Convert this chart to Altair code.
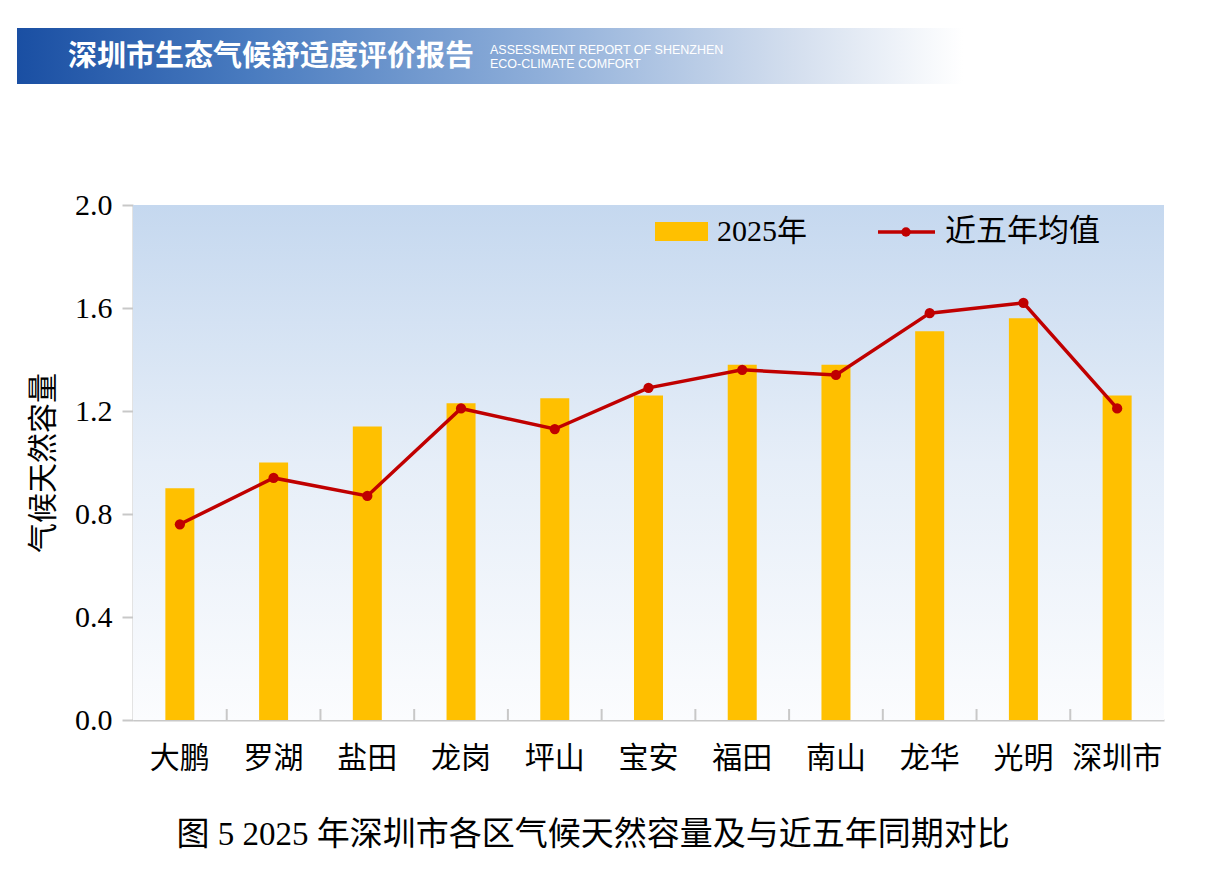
import altair as alt
import pandas as pd

# ---------------- data ----------------
districts = ["大鹏", "罗湖", "盐田", "龙岗", "坪山", "宝安", "福田", "南山", "龙华", "光明", "深圳市"]
values_2025 = [0.90, 1.00, 1.14, 1.23, 1.25, 1.26, 1.38, 1.38, 1.51, 1.56, 1.26]
values_5yr = [0.76, 0.94, 0.87, 1.21, 1.13, 1.29, 1.36, 1.34, 1.58, 1.62, 1.21]
y_ticks = [0.0, 0.4, 0.8, 1.2, 1.6, 2.0]

header_cn = "深圳市生态气候舒适度评价报告"
header_en1 = "ASSESSMENT REPORT OF SHENZHEN"
header_en2 = "ECO-CLIMATE COMFORT"
y_title = "气候天然容量"
legend_bar = "2025年"
legend_line = "近五年均值"
caption = "图 5 2025 年深圳市各区气候天然容量及与近五年同期对比"

# ---------------- layout ----------------
W, H = 1031, 515
PAD_L, PAD_T = 133, 205

SERIF = "Liberation Serif, Noto Sans CJK SC"
CJK = "Noto Sans CJK SC"

df = pd.DataFrame({"区": districts, "y2025": values_2025, "y5": values_5yr})
one = pd.DataFrame({"k": [0]})
tick_df = pd.DataFrame({"区": districts[1:]})

xscale = alt.Scale(domain=districts, paddingInner=0, paddingOuter=0)
yscale = alt.Scale(domain=[0, 2], nice=False)

xaxis = alt.Axis(title=None, labelAngle=0, labelFont=CJK, labelFontSize=30,
                 labelColor="#000000", labelPadding=23, ticks=False,
                 domainColor="#c8c8c8", domainWidth=2)

# background gradient of plot area
bg = alt.Chart(one).mark_rect(
    color=alt.LinearGradient(
        gradient="linear",
        stops=[alt.GradientStop(color="#c5d8ef", offset=0),
               alt.GradientStop(color="#e6eef8", offset=0.5),
               alt.GradientStop(color="#fbfcfe", offset=1)],
        x1=0, x2=0, y1=0, y2=1)
).encode(x=alt.value(0), x2=alt.value(W), y=alt.value(0), y2=alt.value(H))

# header banner
banner = alt.Chart(one).mark_rect(
    color=alt.LinearGradient(
        gradient="linear",
        stops=[alt.GradientStop(color="#1a4fa3", offset=0),
               alt.GradientStop(color="#4a7cc0", offset=0.25),
               alt.GradientStop(color="#8eaed9", offset=0.55),
               alt.GradientStop(color="#d3deee", offset=0.82),
               alt.GradientStop(color="#ffffff", offset=1)],
        x1=0, x2=1, y1=0, y2=0)
).encode(x=alt.value(-116), x2=alt.value(830), y=alt.value(-177), y2=alt.value(-121))

banner_cn = alt.Chart(one).mark_text(
    text=header_cn, font=CJK, fontSize=29, fontWeight="bold", color="white",
    align="left", baseline="middle"
).encode(x=alt.value(-65), y=alt.value(-148))
banner_en1 = alt.Chart(one).mark_text(
    text=header_en1, font="Liberation Sans", fontSize=12.5, color="white",
    align="left", baseline="middle"
).encode(x=alt.value(357), y=alt.value(-155))
banner_en2 = alt.Chart(one).mark_text(
    text=header_en2, font="Liberation Sans", fontSize=12.5, color="white",
    align="left", baseline="middle"
).encode(x=alt.value(357), y=alt.value(-141))

bars = alt.Chart(df).mark_bar(size=29, color="#FFC000").encode(
    x=alt.X("区:N", scale=xscale, sort=districts, axis=xaxis),
    y=alt.Y("y2025:Q", scale=yscale,
            axis=alt.Axis(title=y_title, values=y_ticks, format=".1f",
                          labelFont=SERIF, labelFontSize=30, labelColor="#000000",
                          labelPadding=10, tickSize=11, tickColor="#c8c8c8", tickWidth=2,
                          domainColor="#c8c8c8", domainWidth=2, grid=False,
                          titleFont=CJK, titleFontSize=30, titleFontWeight="normal",
                          titleColor="#000000", titlePadding=16)),
)

xticks = alt.Chart(tick_df).mark_rule(color="#c8c8c8", strokeWidth=2).encode(
    x=alt.X("区:N", scale=xscale, bandPosition=0, axis=xaxis),
    y=alt.value(H - 11), y2=alt.value(H),
)

line = alt.Chart(df).mark_line(color="#C00000", strokeWidth=3.5).encode(
    x=alt.X("区:N", scale=xscale, sort=districts, axis=xaxis),
    y=alt.Y("y5:Q", scale=yscale),
)
pts = alt.Chart(df).mark_point(filled=True, color="#C00000", size=105, opacity=1).encode(
    x=alt.X("区:N", scale=xscale, sort=districts, axis=xaxis),
    y=alt.Y("y5:Q", scale=yscale),
)

# legend (drawn)
leg_rect = alt.Chart(one).mark_rect(color="#FFC000").encode(
    x=alt.value(522), x2=alt.value(575), y=alt.value(17), y2=alt.value(36))
leg_t1 = alt.Chart(one).mark_text(text=legend_bar, font=SERIF, fontSize=30, color="#000000",
                                  align="left", baseline="middle").encode(
    x=alt.value(584), y=alt.value(27))
leg_line = alt.Chart(one).mark_rule(color="#C00000", strokeWidth=3.5).encode(
    x=alt.value(745), x2=alt.value(802), y=alt.value(27))
leg_pt = alt.Chart(one).mark_point(filled=True, color="#C00000", size=90, opacity=1).encode(
    x=alt.value(773), y=alt.value(27))
leg_t2 = alt.Chart(one).mark_text(text=legend_line, font=CJK, fontSize=31, color="#000000",
                                  align="left", baseline="middle").encode(
    x=alt.value(812), y=alt.value(27))

cap = alt.Chart(one).mark_text(text=caption, font=SERIF, fontSize=33, color="#000000",
                               align="center", baseline="middle").encode(
    x=alt.value(460), y=alt.value(630))

chart = alt.layer(
    bg, banner, banner_cn, banner_en1, banner_en2,
    bars, xticks, line, pts,
    leg_rect, leg_t1, leg_line, leg_pt, leg_t2, cap
).properties(
    width=W, height=H,
    padding={"left": PAD_L, "top": PAD_T, "right": 48, "bottom": 150},
    autosize=alt.AutoSizeParams(type="none"),
    background="white",
).configure_view(stroke=None)

chart.save("out.html", embed_options={"renderer": "svg", "actions": False})
